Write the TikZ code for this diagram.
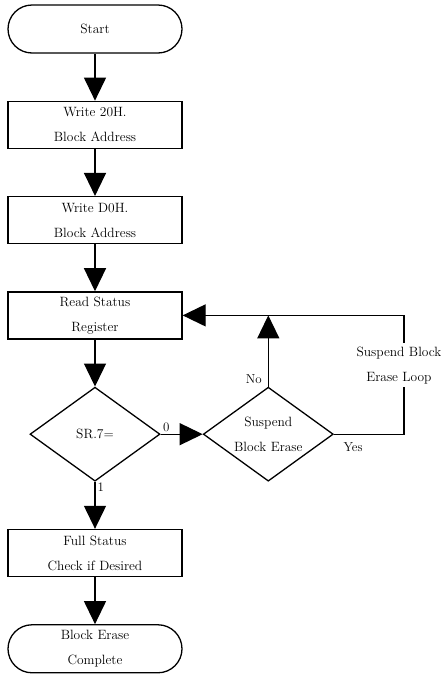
\documentclass[tikz,border=0pt]{standalone}
\usepackage{tikz}
\usetikzlibrary{shapes.geometric, arrows.meta}
\usetikzlibrary{positioning}
\usetikzlibrary{calc}
\tikzstyle{terminal} = [rectangle, rounded corners=24bp,
minimum width=174bp,
minimum height=48bp,
text centered,
align=center,
draw=black,
line width=1.3pt,
fill=white]
\tikzstyle{process} = [rectangle,
minimum width=174bp,
minimum height=47bp,
text centered,
align=center,
draw=black,
line width=1.3pt,
fill=white]
\tikzstyle{decision} = [diamond, aspect=1.38,
minimum width=130bp,
minimum height=94bp,
inner sep=0pt,
text centered,
align=center,
draw=black,
line width=1.3pt]
\tikzstyle{line} = [draw, line width=1.2pt, -{Triangle[length=23bp,width=22bp]}]
\tikzstyle{tag} = [font=\fontsize{13}{15}\selectfont, inner sep=2pt]

\begin{document}
\begin{tikzpicture}[node distance= 47bp and 42bp, font=\fontsize{13.5}{25}\selectfont]

\useasboundingbox (0,0) rectangle (441bp,-677bp);

\node [terminal] (start) at (95bp,-29bp) {Start};
\node [process, below = of start] (wr20) {Write 20H.\\Block Address};
\node [process, below = of wr20] (wrd0) {Write D0H.\\Block Address};
\node [process, below = of wrd0] (rdsr) {Read Status\\Register};
\node [decision, below = of rdsr] (sr7) {SR.7=};
\node [decision, right = of sr7] (susp) {Suspend\\Block Erase};
\node [process, below = of sr7] (full) {Full Status\\Check if Desired};
\node [terminal, below = of full] (done) {Block Erase\\Complete};

\coordinate (loopr) at ($(susp.east)+(70bp,0)$);

\path [line](start) -- (wr20);
\path [line](wr20) -- (wrd0);
\path [line](wrd0) -- (rdsr);
\path [line](rdsr) -- (sr7);
\path [line](sr7) -- node[tag, pos=0, above right] {0} (susp);
\path [line](sr7) -- node[tag, pos=0.12, right] {1} (full);
\path [line](full) -- (done);
\path [line](susp.north) -- node[tag, pos=0.1, left, xshift=-4bp] {No} (susp.north |- rdsr.east);
\path [line](susp.east) -- node[tag, pos=0.1, below right, yshift=-6bp] {Yes} (loopr)
  -- node[fill=white, pos=0.58, align=center, xshift=-5bp] {Suspend Block\\Erase Loop} (loopr |- rdsr.east)
  -- (rdsr.east);

\end{tikzpicture}
\end{document}
